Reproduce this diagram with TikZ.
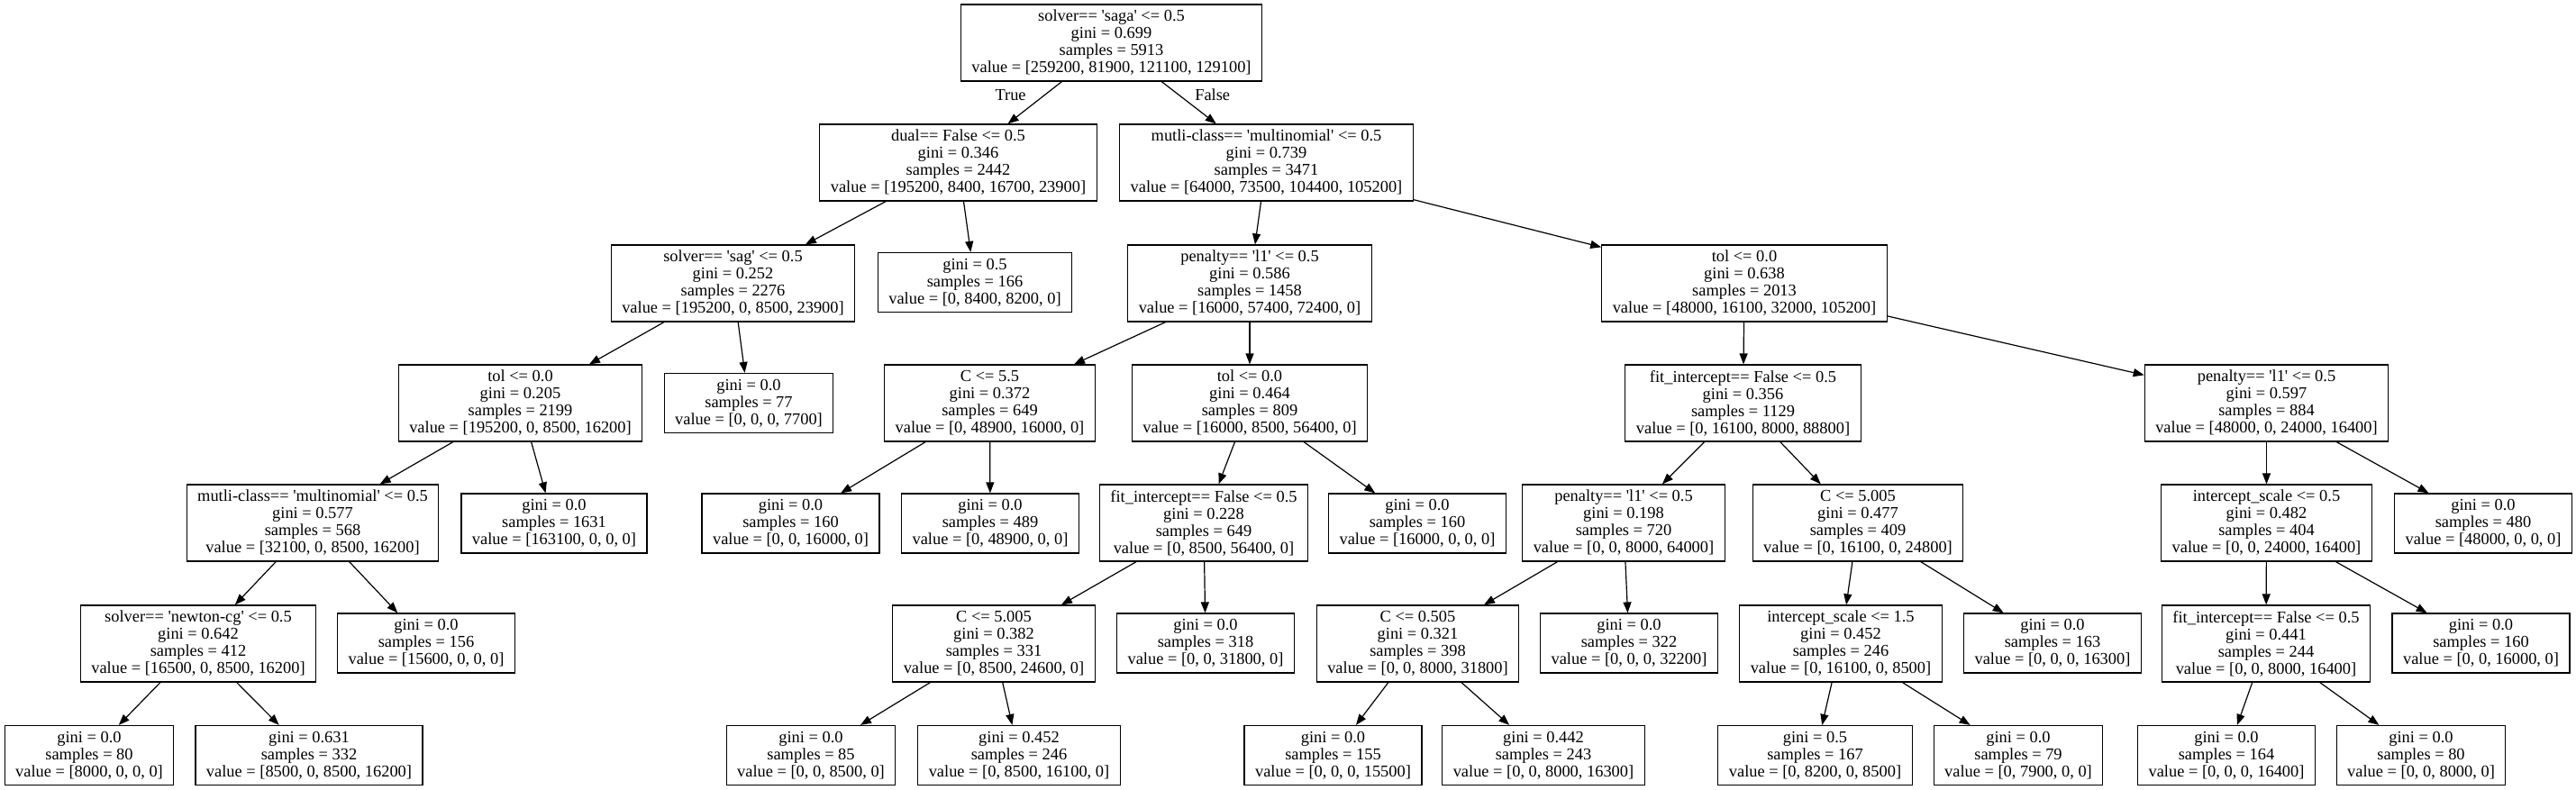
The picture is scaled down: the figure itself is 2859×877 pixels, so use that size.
\documentclass[tikz,border=0pt]{standalone}
\usepackage{fontspec}
\setmainfont{Liberation Serif}[Ligatures=TeXOff]
\usetikzlibrary{arrows.meta,positioning}
\tikzset{
  splitnode/.style={draw, line width=0.6pt, align=center, inner xsep=6pt,
    inner ysep=0pt, minimum height=42.5pt, font=\fontsize{9.2}{9.5}\selectfont},
  leafnode/.style={splitnode, minimum height=33pt},
  treearrow/.style={-{Triangle[length=6pt,width=4.5pt]}, line width=0.6pt},
}

\begin{document}
\begin{tikzpicture}[x=0.5pt, y=-0.5pt]
  \useasboundingbox (0,0) rectangle (2859,877);
  % root
  \node[splitnode] (n0) at (1233.5,47.5)
    {solver== 'saga' <= 0.5\\gini = 0.699\\samples = 5913\\value = [259200, 81900, 121100, 129100]};
  % depth 1
  \node[splitnode] (n1) at (1063.5,180.5)
    {dual== False <= 0.5\\gini = 0.346\\samples = 2442\\value = [195200, 8400, 16700, 23900]};
  \node[splitnode] (n2) at (1405.5,180.5)
    {mutli-class== 'multinomial' <= 0.5\\gini = 0.739\\samples = 3471\\value = [64000, 73500, 104400, 105200]};
  % depth 2
  \node[splitnode] (n3) at (813.5,314.5)
    {solver== 'sag' <= 0.5\\gini = 0.252\\samples = 2276\\value = [195200, 0, 8500, 23900]};
  \node[leafnode] (n4) at (1082,313.5)
    {gini = 0.5\\samples = 166\\value = [0, 8400, 8200, 0]};
  \node[splitnode] (n5) at (1387,314.5)
    {penalty== 'l1' <= 0.5\\gini = 0.586\\samples = 1458\\value = [16000, 57400, 72400, 0]};
  \node[splitnode] (n6) at (1936,314.5)
    {tol <= 0.0\\gini = 0.638\\samples = 2013\\value = [48000, 16100, 32000, 105200]};
  % depth 3
  \node[splitnode] (n7) at (577.5,447.5)
    {tol <= 0.0\\gini = 0.205\\samples = 2199\\value = [195200, 0, 8500, 16200]};
  \node[leafnode] (n8) at (831,447.5)
    {gini = 0.0\\samples = 77\\value = [0, 0, 0, 7700]};
  \node[splitnode] (n9) at (1098.5,447.5)
    {C <= 5.5\\gini = 0.372\\samples = 649\\value = [0, 48900, 16000, 0]};
  \node[splitnode] (n10) at (1387,447.5)
    {tol <= 0.0\\gini = 0.464\\samples = 809\\value = [16000, 8500, 56400, 0]};
  \node[splitnode] (n11) at (1934.5,447.5)
    {fit\_intercept== False <= 0.5\\gini = 0.356\\samples = 1129\\value = [0, 16100, 8000, 88800]};
  \node[splitnode] (n12) at (2515.5,447.5)
    {penalty== 'l1' <= 0.5\\gini = 0.597\\samples = 884\\value = [48000, 0, 24000, 16400]};
  % depth 4
  \node[splitnode] (n13) at (347,580.5)
    {mutli-class== 'multinomial' <= 0.5\\gini = 0.577\\samples = 568\\value = [32100, 0, 8500, 16200]};
  \node[leafnode] (n14) at (615,581)
    {gini = 0.0\\samples = 1631\\value = [163100, 0, 0, 0]};
  \node[leafnode] (n15) at (877.5,581)
    {gini = 0.0\\samples = 160\\value = [0, 0, 16000, 0]};
  \node[leafnode] (n16) at (1099,581)
    {gini = 0.0\\samples = 489\\value = [0, 48900, 0, 0]};
  \node[splitnode] (n17) at (1336,580.5)
    {fit\_intercept== False <= 0.5\\gini = 0.228\\samples = 649\\value = [0, 8500, 56400, 0]};
  \node[leafnode] (n18) at (1573,581)
    {gini = 0.0\\samples = 160\\value = [16000, 0, 0, 0]};
  \node[splitnode] (n19) at (1802,580.5)
    {penalty== 'l1' <= 0.5\\gini = 0.198\\samples = 720\\value = [0, 0, 8000, 64000]};
  \node[splitnode] (n20) at (2062,580.5)
    {C <= 5.005\\gini = 0.477\\samples = 409\\value = [0, 16100, 0, 24800]};
  \node[splitnode] (n21) at (2515.5,580.5)
    {intercept\_scale <= 0.5\\gini = 0.482\\samples = 404\\value = [0, 0, 24000, 16400]};
  \node[leafnode] (n22) at (2756,581)
    {gini = 0.0\\samples = 480\\value = [48000, 0, 0, 0]};
  % depth 5
  \node[splitnode] (n23) at (220,714.5)
    {solver== 'newton-cg' <= 0.5\\gini = 0.642\\samples = 412\\value = [16500, 0, 8500, 16200]};
  \node[leafnode] (n24) at (473,714)
    {gini = 0.0\\samples = 156\\value = [15600, 0, 0, 0]};
  \node[splitnode] (n25) at (1103,714.5)
    {C <= 5.005\\gini = 0.382\\samples = 331\\value = [0, 8500, 24600, 0]};
  \node[leafnode] (n26) at (1338,714)
    {gini = 0.0\\samples = 318\\value = [0, 0, 31800, 0]};
  \node[splitnode] (n27) at (1573.5,714.5)
    {C <= 0.505\\gini = 0.321\\samples = 398\\value = [0, 0, 8000, 31800]};
  \node[leafnode] (n28) at (1808,714)
    {gini = 0.0\\samples = 322\\value = [0, 0, 0, 32200]};
  \node[splitnode] (n29) at (2043,714.5)
    {intercept\_scale <= 1.5\\gini = 0.452\\samples = 246\\value = [0, 16100, 0, 8500]};
  \node[leafnode] (n30) at (2278,714)
    {gini = 0.0\\samples = 163\\value = [0, 0, 0, 16300]};
  \node[splitnode] (n31) at (2515,714.5)
    {fit\_intercept== False <= 0.5\\gini = 0.441\\samples = 244\\value = [0, 0, 8000, 16400]};
  \node[leafnode] (n32) at (2753.5,714)
    {gini = 0.0\\samples = 160\\value = [0, 0, 16000, 0]};
  % depth 6
  \node[leafnode] (n33) at (99,838.5)
    {gini = 0.0\\samples = 80\\value = [8000, 0, 0, 0]};
  \node[leafnode] (n34) at (343,838.5)
    {gini = 0.631\\samples = 332\\value = [8500, 0, 8500, 16200]};
  \node[leafnode] (n35) at (900,838.5)
    {gini = 0.0\\samples = 85\\value = [0, 0, 8500, 0]};
  \node[leafnode] (n36) at (1131,838.5)
    {gini = 0.452\\samples = 246\\value = [0, 8500, 16100, 0]};
  \node[leafnode] (n37) at (1479.5,838.5)
    {gini = 0.0\\samples = 155\\value = [0, 0, 0, 15500]};
  \node[leafnode] (n38) at (1713,838.5)
    {gini = 0.442\\samples = 243\\value = [0, 0, 8000, 16300]};
  \node[leafnode] (n39) at (2014.5,838.5)
    {gini = 0.5\\samples = 167\\value = [0, 8200, 0, 8500]};
  \node[leafnode] (n40) at (2240,838.5)
    {gini = 0.0\\samples = 79\\value = [0, 7900, 0, 0]};
  \node[leafnode] (n41) at (2471,838.5)
    {gini = 0.0\\samples = 164\\value = [0, 0, 0, 16400]};
  \node[leafnode] (n42) at (2687,838.5)
    {gini = 0.0\\samples = 80\\value = [0, 0, 8000, 0]};
  % edges
  \draw[treearrow] (n0) -- node[pos=0.31, left=7pt, font=\fontsize{9.2}{9.5}\selectfont] {True} (n1);
  \draw[treearrow] (n0) -- node[pos=0.31, right=5.5pt, font=\fontsize{9.2}{9.5}\selectfont] {False} (n2);
  \foreach \p/\c in {1/3, 1/4, 2/5, 2/6, 3/7, 3/8, 5/9, 5/10, 6/11, 6/12,
      7/13, 7/14, 9/15, 9/16, 10/17, 10/18, 11/19, 11/20, 12/21, 12/22,
      13/23, 13/24, 17/25, 17/26, 19/27, 19/28, 20/29, 20/30, 21/31, 21/32,
      23/33, 23/34, 25/35, 25/36, 27/37, 27/38, 29/39, 29/40, 31/41, 31/42}
    \draw[treearrow] (n\p) -- (n\c);
\end{tikzpicture}
\end{document}
